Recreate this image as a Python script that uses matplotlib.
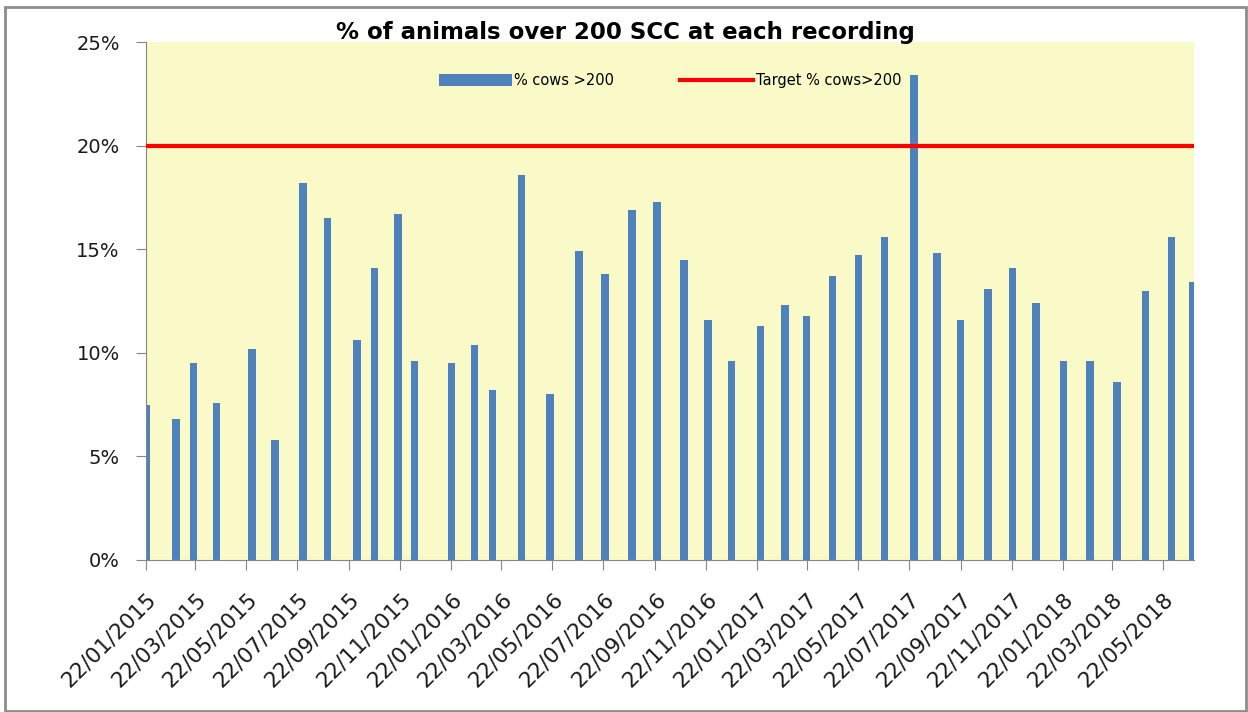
import matplotlib
matplotlib.use("Agg")
import matplotlib.pyplot as plt
import matplotlib.dates as mdates
import matplotlib.ticker as mticker
from matplotlib.patches import Rectangle
import pandas as pd

# recording dates and % of cows over 200 SCC
dates = [
    "2015-01-22", "2015-02-27", "2015-03-20", "2015-04-16", "2015-05-29", "2015-06-25",
    "2015-07-29", "2015-08-27", "2015-10-01", "2015-10-22", "2015-11-19", "2015-12-09",
    "2016-01-22", "2016-02-19", "2016-03-11", "2016-04-15", "2016-05-19", "2016-06-23",
    "2016-07-24", "2016-08-25", "2016-09-24", "2016-10-26", "2016-11-24", "2016-12-22",
    "2017-01-26", "2017-02-24", "2017-03-22", "2017-04-22", "2017-05-23", "2017-06-23",
    "2017-07-28", "2017-08-25", "2017-09-22", "2017-10-25", "2017-11-23", "2017-12-21",
    "2018-01-23", "2018-02-24", "2018-03-28", "2018-05-01", "2018-06-01", "2018-06-26",
]
pct_over_200 = [
    7.5, 6.8, 9.5, 7.6, 10.2, 5.8,
    18.2, 16.5, 10.6, 14.1, 16.7, 9.6,
    9.5, 10.4, 8.2, 18.6, 8.0, 14.9,
    13.8, 16.9, 17.3, 14.5, 11.6, 9.6,
    11.3, 12.3, 11.8, 13.7, 14.7, 15.6,
    23.4, 14.8, 11.6, 13.1, 14.1, 12.4,
    9.6, 9.6, 8.6, 13.0, 15.6, 13.4,
]
target = 20

x = pd.to_datetime(dates)

fig = plt.figure(figsize=(12.48, 7.12), dpi=100)
ax = fig.add_axes([0.117, 0.2135, 0.8397, 0.7275])
ax.set_facecolor("#fafac8")

bars = ax.bar(x, pct_over_200, width=9, color="#4f81bd", label="% cows >200", zorder=2)
tline = ax.axhline(target, color="#ff0000", lw=3, label="Target % cows>200", zorder=3)

ax.set_xlim(pd.Timestamp("2015-01-22"), pd.Timestamp("2018-06-28"))
ax.set_ylim(0, 25)
ax.yaxis.set_major_locator(mticker.MultipleLocator(5))
ax.yaxis.set_major_formatter(mticker.FuncFormatter(lambda v, p: "%d%%" % v))
ax.xaxis.set_major_locator(mdates.MonthLocator(bymonth=[1, 3, 5, 7, 9, 11], bymonthday=22))
ax.xaxis.set_major_formatter(mdates.DateFormatter("%d/%m/%Y"))

for s in ["top", "right"]:
    ax.spines[s].set_visible(False)
for s in ["left", "bottom"]:
    ax.spines[s].set_color("#868686")
ax.tick_params(axis="both", colors="#868686", length=7, labelcolor="#1a1a1a")
ax.tick_params(axis="y", labelsize=14, pad=12)
ax.tick_params(axis="x", labelsize=15.5, pad=14)
for lab in ax.get_xticklabels():
    lab.set_rotation(45)
    lab.set_ha("right")
    lab.set_rotation_mode("anchor")

ax.legend([bars, tline], ["% cows >200", "Target % cows>200"],
          loc="upper center", bbox_to_anchor=(0.5, 0.965), ncol=2, frameon=False,
          fontsize=10.5, handlelength=5, handleheight=0.9, columnspacing=4.5, handletextpad=0.2)

fig.text(0.501, 0.955, "% of animals over 200 SCC at each recording",
         ha="center", va="center", fontsize=16.5, fontweight="bold")

fig.patches.append(Rectangle((0.004, 0.002), 0.994, 0.988, transform=fig.transFigure,
                             fill=False, edgecolor="#8c8c8c", lw=2))

fig.savefig("out.png", dpi=100)
